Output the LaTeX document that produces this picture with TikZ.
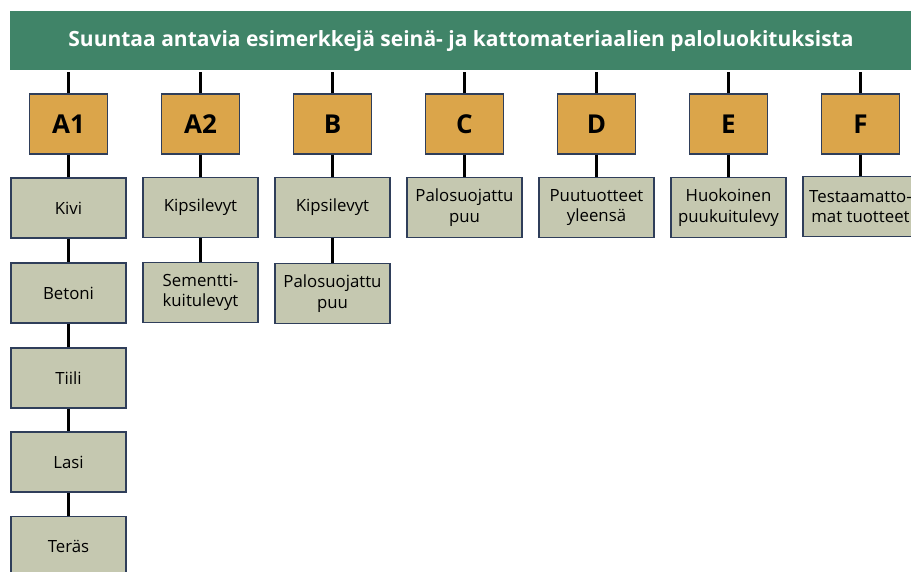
\documentclass[tikz,border=0pt]{standalone}
\usepackage{fontspec}
\setmainfont{Open Sans}
\definecolor{bargreen}{RGB}{64,132,104}
\definecolor{classorange}{RGB}{219,165,74}
\definecolor{itemgrey}{RGB}{197,200,176}
\definecolor{boxedge}{RGB}{47,62,90}
\begin{document}
\begin{tikzpicture}[x=1pt,y=-1pt,line width=2.2pt,
    title bar/.style={rectangle,fill=bargreen,text=white,minimum width=903pt,minimum height=59.5pt,inner sep=0pt,font=\fontsize{21}{24}\selectfont\bfseries},
    class node/.style={rectangle,draw=boxedge,line width=1.3pt,fill=classorange,minimum width=78pt,minimum height=60pt,inner sep=0pt,font=\fontsize{26}{30}\selectfont\bfseries},
    item node/.style={rectangle,draw=boxedge,line width=1.3pt,fill=itemgrey,minimum width=115pt,minimum height=60pt,inner sep=0pt,align=center,font=\fontsize{16.8}{20.5}\selectfont}]
        \useasboundingbox (0,0) rectangle (911,572);
        \clip (0,0) rectangle (911,572);

        \node[title bar] at (461, 40.75) (title) {Suuntaa antavia esimerkkejä seinä- ja kattomateriaalien paloluokituksista};

        \node[class node] at (68.5, 124) (a1) {A1};
        \node[class node] at (200.5, 124) (a2) {A2};
        \node[class node] at (332.5, 124) (b) {B};
        \node[class node] at (464.5, 124) (c) {C};
        \node[class node] at (596.5, 124) (d) {D};
        \node[class node] at (728.5, 124) (e) {E};
        \node[class node] at (860.5, 124) (f) {F};

        \node[item node] at (68.5, 208) (kivi) {Kivi};
        \node[item node] at (68.5, 293) (betoni) {Betoni};
        \node[item node] at (68.5, 378) (tiili) {Tiili};
        \node[item node] at (68.5, 462) (lasi) {Lasi};
        \node[item node] at (68.5, 546.5) (teras) {Teräs};
        \node[item node] at (200.5, 207.5) (kipsia) {Kipsilevyt};
        \node[item node] at (200.5, 292.5) (sementti) {Sementti-\\kuitulevyt};
        \node[item node] at (332.5, 207.5) (kipsib) {Kipsilevyt};
        \node[item node] at (332.5, 293.5) (palob) {Palosuojattu\\puu};
        \node[item node] at (464.5, 207.5) (paloc) {Palosuojattu\\puu};
        \node[item node] at (596.5, 207.5) (puu) {Puutuotteet\\yleensä};
        \node[item node] at (728.5, 207.5) (huokoinen) {Huokoinen\\puukuitulevy};
        \node[item node] at (860.5, 206.5) (testaamaton) {Testaamatto-\\mat tuotteet};

        \path
            (a1) edge (a1 |- title.south)
            (a2) edge (a2 |- title.south)
            (b) edge (b |- title.south)
            (c) edge (c |- title.south)
            (d) edge (d |- title.south)
            (e) edge (e |- title.south)
            (f) edge (f |- title.south)
            (a1) edge (kivi)
            (kivi) edge (betoni)
            (betoni) edge (tiili)
            (tiili) edge (lasi)
            (lasi) edge (teras)
            (a2) edge (kipsia)
            (kipsia) edge (sementti)
            (b) edge (kipsib)
            (kipsib) edge (palob)
            (c) edge (paloc)
            (d) edge (puu)
            (e) edge (huokoinen)
            (f) edge (testaamaton)
            ;
    \end{tikzpicture}
\end{document}
